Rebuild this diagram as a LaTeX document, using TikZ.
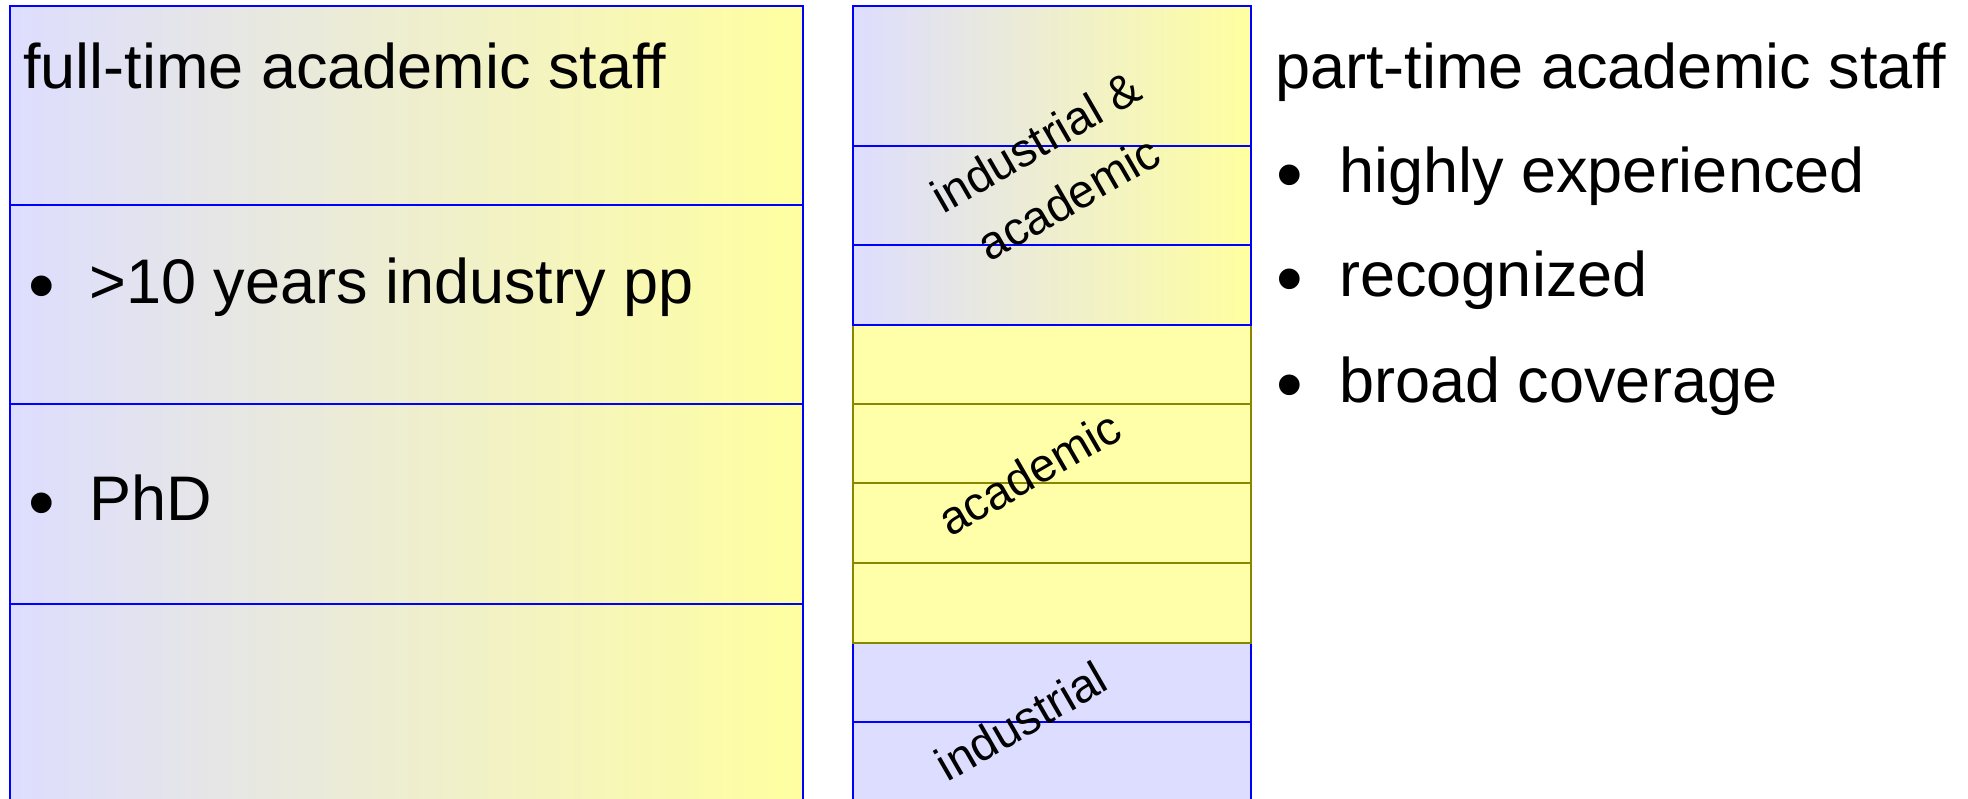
\documentclass[tikz,border=0pt]{standalone}
\usepackage{fontspec}
\setmainfont{Liberation Sans}
\usepackage{tikz}
\usetikzlibrary{positioning}
\definecolor{lav}{RGB}{221,221,255}
\definecolor{lemon}{RGB}{255,255,160}
\definecolor{pale}{RGB}{255,255,170}
\definecolor{olivedraw}{RGB}{136,136,0}

\begin{document}
\begin{tikzpicture}[x=0.5pt, y=-0.5pt, line width=1.4pt,
  big/.style={font=\fontsize{31.5}{38}\selectfont, anchor=base west, inner sep=0pt},
  dotmark/.style={font=\fontsize{38}{40}\selectfont, anchor=base west, inner sep=0pt, yshift=-4pt},
  tilt/.style={font=\fontsize{23.5}{32.5}\selectfont, rotate=30, align=center, inner sep=0pt}]
  \useasboundingbox (0,0) rectangle (1968,798);
  \clip (0,0) rectangle (1968,798);
  \shade[left color=lav, right color=lemon] (10,6) rectangle (803,830);
  \foreach \ya/\yb in {6/205,205/404,404/604,604/830}
    \draw[blue] (10,\ya) rectangle (803,\yb);
  \fill[lav] (853,643) rectangle (1251,830);
  \foreach \ya/\yb in {643/722,722/830}
    \draw[blue] (853,\ya) rectangle (1251,\yb);
  \fill[pale] (853,325) rectangle (1251,643);
  \foreach \ya/\yb in {325/404,404/483,483/563,563/643}
    \draw[olivedraw] (853,\ya) rectangle (1251,\yb);
  \shade[left color=lav, right color=lemon] (853,6) rectangle (1251,325);
  \foreach \ya/\yb in {6/146,146/245,245/325}
    \draw[blue] (853,\ya) rectangle (1251,\yb);
  \node[big] (ftitle) at (22,88) {full-time academic staff};
  \node[dotmark] (fdota) at (27,303) {•};
  \node[big] (fyears) at (88,303) {>10 years industry pp};
  \node[dotmark] (fdotb) at (27,520) {•};
  \node[big] (fphd) at (88,520) {PhD};
  \node[tilt] (mix) at (1052,170) {industrial \&\\academic};
  \node[tilt] (acad) at (1029,473) {academic};
  \node[tilt] (indus) at (1021,721) {industrial};
  \node[big] (ptitle) at (1274,88) {part-time academic staff};
  \foreach \y/\t/\n in {192/highly experienced/pexp,296/recognized/prec,402/broad coverage/pbroad} {
    \node[dotmark] (\n dot) at (1275,\y) {•};
    \node[big] (\n) at (1338,\y) {\t};
  }
\end{tikzpicture}
\end{document}
